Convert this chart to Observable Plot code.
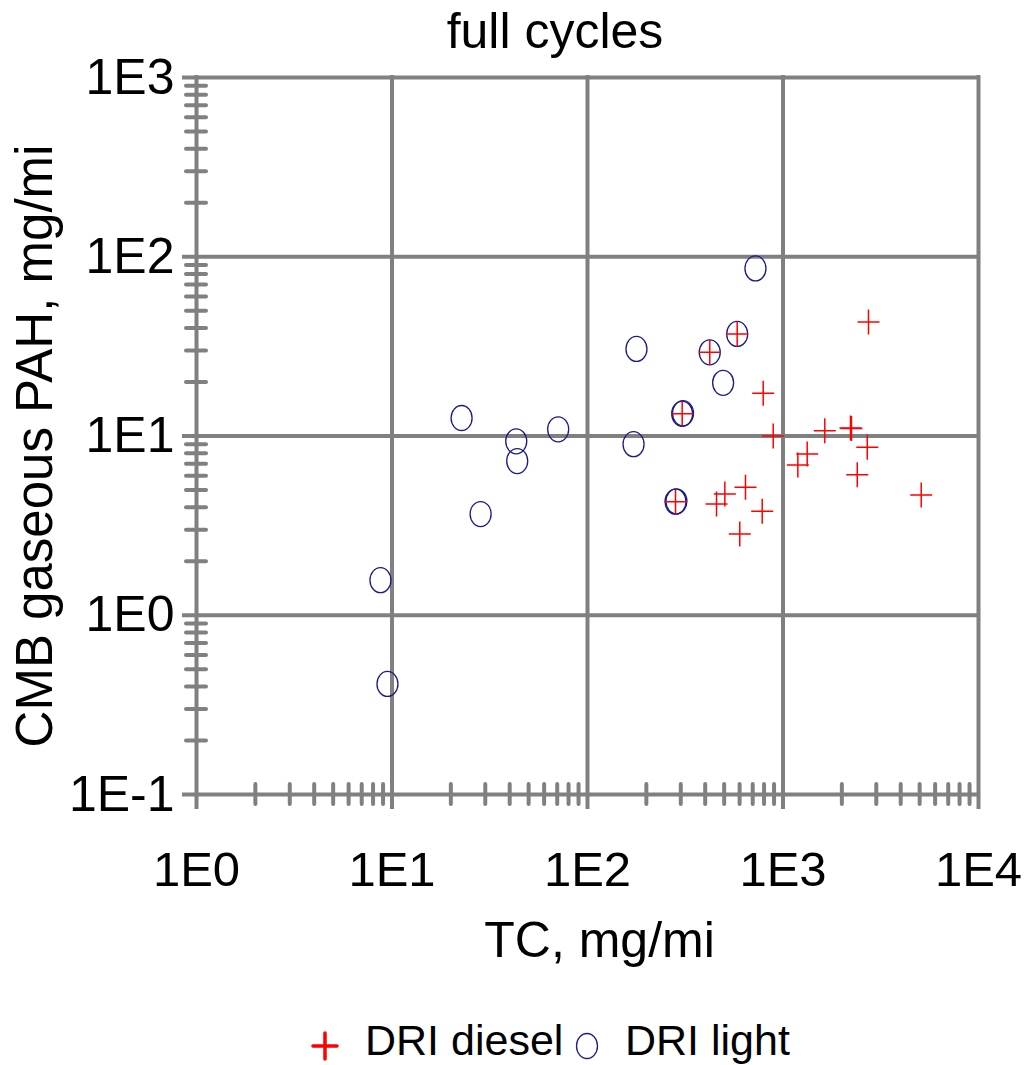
<!DOCTYPE html>
<html>
<head>
<meta charset="utf-8">
<script src="https://cdn.jsdelivr.net/npm/d3@7"></script>
<script src="https://cdn.jsdelivr.net/npm/@observablehq/plot@0.6"></script>
<style>
html, body { margin: 0; padding: 0; background: #fff; }
body { width: 1030px; height: 1065px; overflow: hidden; font-family: "Liberation Sans", Arial, sans-serif; color: #000; }
#title { position: relative; height: 60px; }
#title span { position: absolute; left: 555px; top: 6px; transform: translateX(-50%); font-size: 50px; line-height: 50px; white-space: nowrap; }
#chart { height: 940px; }
#chart svg { display: block; }
#legend { position: relative; height: 65px; }
#legend .sym { position: absolute; }
#legend .lab { position: absolute; font-size: 43px; line-height: 43px; white-space: nowrap; }
</style>
</head>
<body>
<div id="title"><span>full cycles</span></div>
<div id="chart"></div>
<div id="legend">
  <svg class="sym" style="left:311px;top:31px" width="28" height="30"><path d="M2,15H26M14,2V28" stroke="#ff0000" stroke-width="3.5" stroke-linecap="round" fill="none"/></svg>
  <span class="lab" style="left:365px;top:19px">DRI diesel</span>
  <svg class="sym" style="left:574px;top:31px" width="26" height="30"><ellipse cx="13" cy="15" rx="10.5" ry="12.5" stroke="#1a1a8c" stroke-width="1.3" fill="none"/></svg>
  <span class="lab" style="left:625px;top:19px">DRI light</span>
</div>
<script>
// ---- data ----
const lightTC  = [8.73, 9.48, 22.7, 28.4, 43.2, 43.7, 70.8, 172, 178, 305, 308, 282, 285, 422, 583, 494, 723];
const lightPAH = [1.57, 0.414, 12.6, 3.67, 9.34, 7.25, 10.9, 9.0, 30.6, 13.3, 13.4, 4.3, 4.32, 29.3, 37.1, 19.8, 86.1];

const dieselTC  = [305, 282, 422, 583, 792, 891, 1636, 2214, 2240, 2698, 1330, 1191, 2398, 5093, 504, 457, 643, 783, 601, 2737];
const dieselPAH = [13.3, 4.3, 29.3, 37.1, 17.3, 10.0, 10.7, 11.1, 11.0, 8.65, 7.94, 6.89, 6.08, 4.69, 4.75, 4.18, 5.17, 3.80, 2.84, 43.2];

const xTickValues = [1, 10, 100, 1000, 10000];
const xTickLabels = ["1E0", "1E1", "1E2", "1E3", "1E4"];
const yTickValues = [0.1, 1, 10, 100, 1000];
const yTickLabels = ["1E-1", "1E0", "1E1", "1E2", "1E3"];
const minorMultipliers = [2, 3, 4, 5, 6, 7, 8, 9];

const xMinor = xTickValues.slice(0, -1).flatMap(d => minorMultipliers.map(m => d * m));
const yMinor = yTickValues.slice(0, -1).flatMap(d => minorMultipliers.map(m => d * m));

const light = lightTC.map((x, i) => ({x, y: lightPAH[i]}));
const diesel = dieselTC.map((x, i) => ({x, y: dieselPAH[i]}));

const ellipseSymbol = {
  draw(ctx) {
    const rx = 10.5, ry = 12.5, k = 0.5523;
    ctx.moveTo(rx, 0);
    ctx.bezierCurveTo(rx, ry * k, rx * k, ry, 0, ry);
    ctx.bezierCurveTo(-rx * k, ry, -rx, ry * k, -rx, 0);
    ctx.bezierCurveTo(-rx, -ry * k, -rx * k, -ry, 0, -ry);
    ctx.bezierCurveTo(rx * k, -ry, rx, -ry * k, rx, 0);
    ctx.closePath();
  }
};
const plusSymbol = {
  draw(ctx) {
    ctx.moveTo(-11, 0); ctx.lineTo(11, 0);
    ctx.moveTo(0, -12.5); ctx.lineTo(0, 12.5);
  }
};

const grey = "#808080";
const chart = Plot.plot({
  width: 1030,
  height: 940,
  marginTop: 17,
  marginLeft: 196,
  marginRight: 52,
  marginBottom: 206,
  x: {type: "log", domain: [1, 10000], axis: null},
  y: {type: "log", domain: [0.1, 1000], axis: null},
  style: {fontFamily: "'Liberation Sans', Arial, sans-serif", background: "#fff", color: "#000", overflow: "visible"},
  marks: [
    Plot.ruleY(yMinor, {y: d => d, x1: () => 1, x2: () => 1, insetLeft: -10, insetRight: -10, stroke: grey, strokeWidth: 4, strokeLinecap: "round"}),
    Plot.ruleX(xMinor, {x: d => d, y1: () => 0.1, y2: () => 0.1, insetTop: -10, insetBottom: -10, stroke: grey, strokeWidth: 4, strokeLinecap: "round"}),
    Plot.ruleY(yTickValues, {y: d => d, insetLeft: -14, insetRight: -2, stroke: grey, strokeWidth: 4}),
    Plot.ruleX(xTickValues, {x: d => d, insetTop: -2, insetBottom: -15, stroke: grey, strokeWidth: 4}),
    Plot.text(xTickValues, {x: d => d, frameAnchor: "bottom", dy: 76, textAnchor: "middle", lineAnchor: "middle", text: (d, i) => xTickLabels[i], fontSize: 49, fill: "#000"}),
    Plot.text(yTickValues, {y: d => d, frameAnchor: "left", dx: -22, textAnchor: "end", lineAnchor: "middle", text: (d, i) => yTickLabels[i], fontSize: 50, fill: "#000"}),
    Plot.text(["TC, mg/mi"], {frameAnchor: "bottom", dx: 12, dy: 146, textAnchor: "middle", lineAnchor: "middle", text: d => d, fontSize: 50, fill: "#000"}),
    Plot.text(["CMB gaseous PAH, mg/mi"], {frameAnchor: "left", dx: -161, dy: 10, rotate: -90, textAnchor: "middle", lineAnchor: "middle", text: d => d, fontSize: 51, fill: "#000"}),
    Plot.dot(light, {x: "x", y: "y", symbol: ellipseSymbol, r: 10, fill: "none", stroke: "#1a1a8c", strokeWidth: 1.3}),
    Plot.dot(diesel, {x: "x", y: "y", symbol: plusSymbol, r: 10, fill: "none", stroke: "#ff0000", strokeWidth: 1.5})
  ]
});
document.getElementById("chart").appendChild(chart);
</script>
</body>
</html>
